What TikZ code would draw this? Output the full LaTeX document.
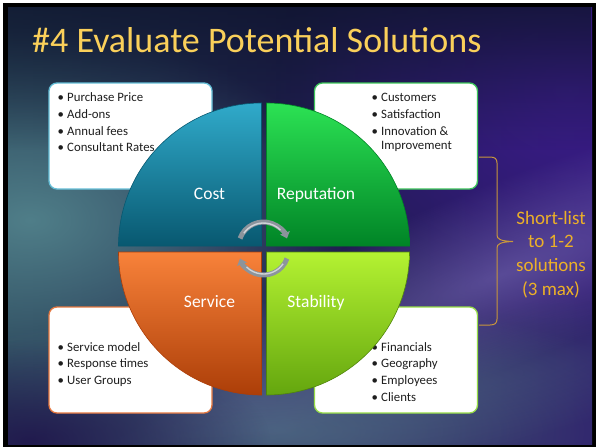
\documentclass[tikz,border=0pt]{standalone}
\usepackage{fontspec}
\setmainfont{Carlito}
\usetikzlibrary{arrows.meta,fadings}

% slide background
\definecolor{bgleft}{RGB}{36,60,82}
\definecolor{bgmid}{RGB}{30,30,76}
\definecolor{bgright}{RGB}{42,22,104}
\definecolor{tealglow}{RGB}{82,130,140}
\definecolor{bluegray}{RGB}{80,106,134}
\definecolor{violet}{RGB}{60,30,140}
\definecolor{lavender}{RGB}{128,116,190}
\definecolor{topshade}{RGB}{14,20,44}
% texts and brace
\definecolor{titlegold}{RGB}{250,208,90}
\definecolor{notegold}{RGB}{236,176,40}
\definecolor{bracegold}{RGB}{200,150,60}
\definecolor{itemtext}{RGB}{30,30,30}
% pie quadrants
\definecolor{costtop}{RGB}{48,170,202}
\definecolor{costbot}{RGB}{8,88,112}
\definecolor{reptop}{RGB}{44,226,84}
\definecolor{repbot}{RGB}{0,132,38}
\definecolor{servtop}{RGB}{248,130,58}
\definecolor{servbot}{RGB}{172,62,8}
\definecolor{stabtop}{RGB}{180,242,50}
\definecolor{stabbot}{RGB}{100,166,14}
% box outlines
\definecolor{costedge}{RGB}{100,190,215}
\definecolor{repedge}{RGB}{60,196,90}
\definecolor{servedge}{RGB}{230,120,64}
\definecolor{stabedge}{RGB}{150,220,70}
% rotation arrows
\definecolor{ringgray}{RGB}{140,148,156}
\definecolor{ringlight}{RGB}{208,212,216}

\tikzfading[name=softblob, inner color=transparent!0, outer color=transparent!100]

\newcommand\itembullet{\makebox[9.5pt][l]{•}}

\begin{document}
\begin{tikzpicture}[x=1pt,y=-1pt,
  infobox/.style={rectangle, rounded corners=8pt, fill=white, line width=1.3pt,
    minimum width=163pt, minimum height=106pt, inner sep=0pt},
  item/.style={anchor=base west, inner sep=0pt, text=itemtext,
    font=\fontsize{12.8}{15}\selectfont},
  quadlabel/.style={anchor=base, inner sep=0pt, text=white,
    font=\fontsize{17.5}{20}\selectfont},
  notetext/.style={anchor=base, inner sep=0pt, text=notegold,
    font=\fontsize{19}{22}\selectfont},
  glow/.style={path fading=softblob},
  quad/.style={line width=0.6pt},
  ringarrow/.style={line width=5pt, draw=ringgray, -{Triangle[width=10pt,length=6pt]}},
  ringshine/.style={line width=1.4pt, draw=ringlight}
]
\useasboundingbox (0,0) rectangle (596,447);

% frame
\fill[white] (0,0) rectangle (596,447);
\fill[black] (3,3) rectangle (596,447);

% background
\begin{scope}
  \clip (8,7) rectangle (592,444);
  \shade[left color=bgleft, right color=bgright, middle color=bgmid] (8,7) rectangle (592,444);
  \fill[tealglow, glow, opacity=0.95] (30,220) ellipse [x radius=320, y radius=190];
  \fill[bluegray, glow, opacity=0.85] (280,430) ellipse [x radius=420, y radius=130];
  \fill[violet, glow, opacity=0.9] (570,90) ellipse [x radius=300, y radius=240];
  % diagonal light streaks, rotated as a whole so the fading follows them
  \begin{scope}[transform canvas={rotate around={22:(500pt,-275pt)}}]
    \fill[lavender, glow, opacity=0.55] (500,275) ellipse [x radius=400, y radius=90];
  \end{scope}
  \begin{scope}[transform canvas={rotate around={14:(430pt,-395pt)}}]
    \fill[bluegray, glow, opacity=0.45] (430,395) ellipse [x radius=400, y radius=70];
  \end{scope}
  \fill[topshade, path fading=south, opacity=0.75] (8,7) rectangle (592,150);
  \fill[bgright!70!black, glow, opacity=0.8] (30,440) ellipse [x radius=240, y radius=100];
\end{scope}

% title
\node[anchor=base west, inner sep=0pt, text=titlegold, font=\fontsize{36}{40}\selectfont]
  (title) at (32,52) {\#4 Evaluate Potential Solutions};

% information boxes
\node[infobox, draw=costedge] (costbox) at (130.5,136) {};
\node[infobox, draw=repedge]  (repbox)  at (396,136) {};
\node[infobox, draw=servedge] (servbox) at (130.5,360) {};
\node[infobox, draw=stabedge] (stabbox) at (396,360) {};

\node[item] (cost1) at (57.5,101) {\itembullet Purchase Price};
\node[item] (cost2) at (57.5,118) {\itembullet Add-ons};
\node[item] (cost3) at (57.5,135) {\itembullet Annual fees};
\node[item] (cost4) at (57.5,151) {\itembullet Consultant Rates};

\node[item] (rep1) at (371.5,101) {\itembullet Customers};
\node[item] (rep2) at (371.5,118) {\itembullet Satisfaction};
\node[item] (rep3) at (371.5,135) {\itembullet Innovation \&};
\node[item] (rep4) at (381,149) {Improvement};

\node[item] (serv1) at (57.5,351) {\itembullet Service model};
\node[item] (serv2) at (57.5,367) {\itembullet Response times};
\node[item] (serv3) at (57.5,384) {\itembullet User Groups};

\node[item] (stab1) at (371.5,351) {\itembullet Financials};
\node[item] (stab2) at (371.5,367) {\itembullet Geography};
\node[item] (stab3) at (371.5,384) {\itembullet Employees};
\node[item] (stab4) at (371.5,401) {\itembullet Clients};

% pie quadrants
\shadedraw[quad, top color=costtop, bottom color=costbot, draw=costbot]
  (261.5,246) -- (118.5,246) arc[start angle=180, end angle=270, radius=143] -- cycle;
\shadedraw[quad, top color=reptop, bottom color=repbot, draw=repbot]
  (266.5,246) -- (266.5,103) arc[start angle=270, end angle=360, radius=143] -- cycle;
\shadedraw[quad, top color=servtop, bottom color=servbot, draw=servbot]
  (261.5,252) -- (118.5,252) arc[start angle=180, end angle=90, radius=143] -- cycle;
\shadedraw[quad, top color=stabtop, bottom color=stabbot, draw=stabbot!80!black]
  (266.5,252) -- (409.5,252) arc[start angle=0, end angle=90, radius=143] -- cycle;

\node[quadlabel] (cost)  at (209.5,199.5) {Cost};
\node[quadlabel] (rep)   at (316,199.5)   {Reputation};
\node[quadlabel] (serv)  at (209.5,307.5) {Service};
\node[quadlabel] (stab)  at (316,307.5)   {Stability};

% rotation arrows in the middle
\draw[ringarrow] (263.5,247) ++(200:25) arc[start angle=200, end angle=340, radius=25];
\draw[ringshine] (263.5,247) ++(215:24) arc[start angle=215, end angle=315, radius=24];
\draw[ringarrow] (263.5,250) ++(20:25) arc[start angle=20, end angle=160, radius=25];
\draw[ringshine] (263.5,250) ++(35:24) arc[start angle=35, end angle=135, radius=24];

% brace and note
\draw[bracegold, line width=1pt]
  (479,157) -- (490,157) .. controls (495,157) and (497,159) .. (497,163)
  -- (497,235) .. controls (497,239) and (500,241) .. (513,241.5)
  .. controls (500,242) and (497,244) .. (497,248)
  -- (497,319) .. controls (497,323) and (495,325) .. (490,325) -- (479,325);

\node[notetext] (note1) at (551,224) {Short-list};
\node[notetext] (note2) at (551,247.5) {to 1-2};
\node[notetext] (note3) at (551,271) {solutions};
\node[notetext] (note4) at (551,295.5) {(3 max)};

\end{tikzpicture}
\end{document}
